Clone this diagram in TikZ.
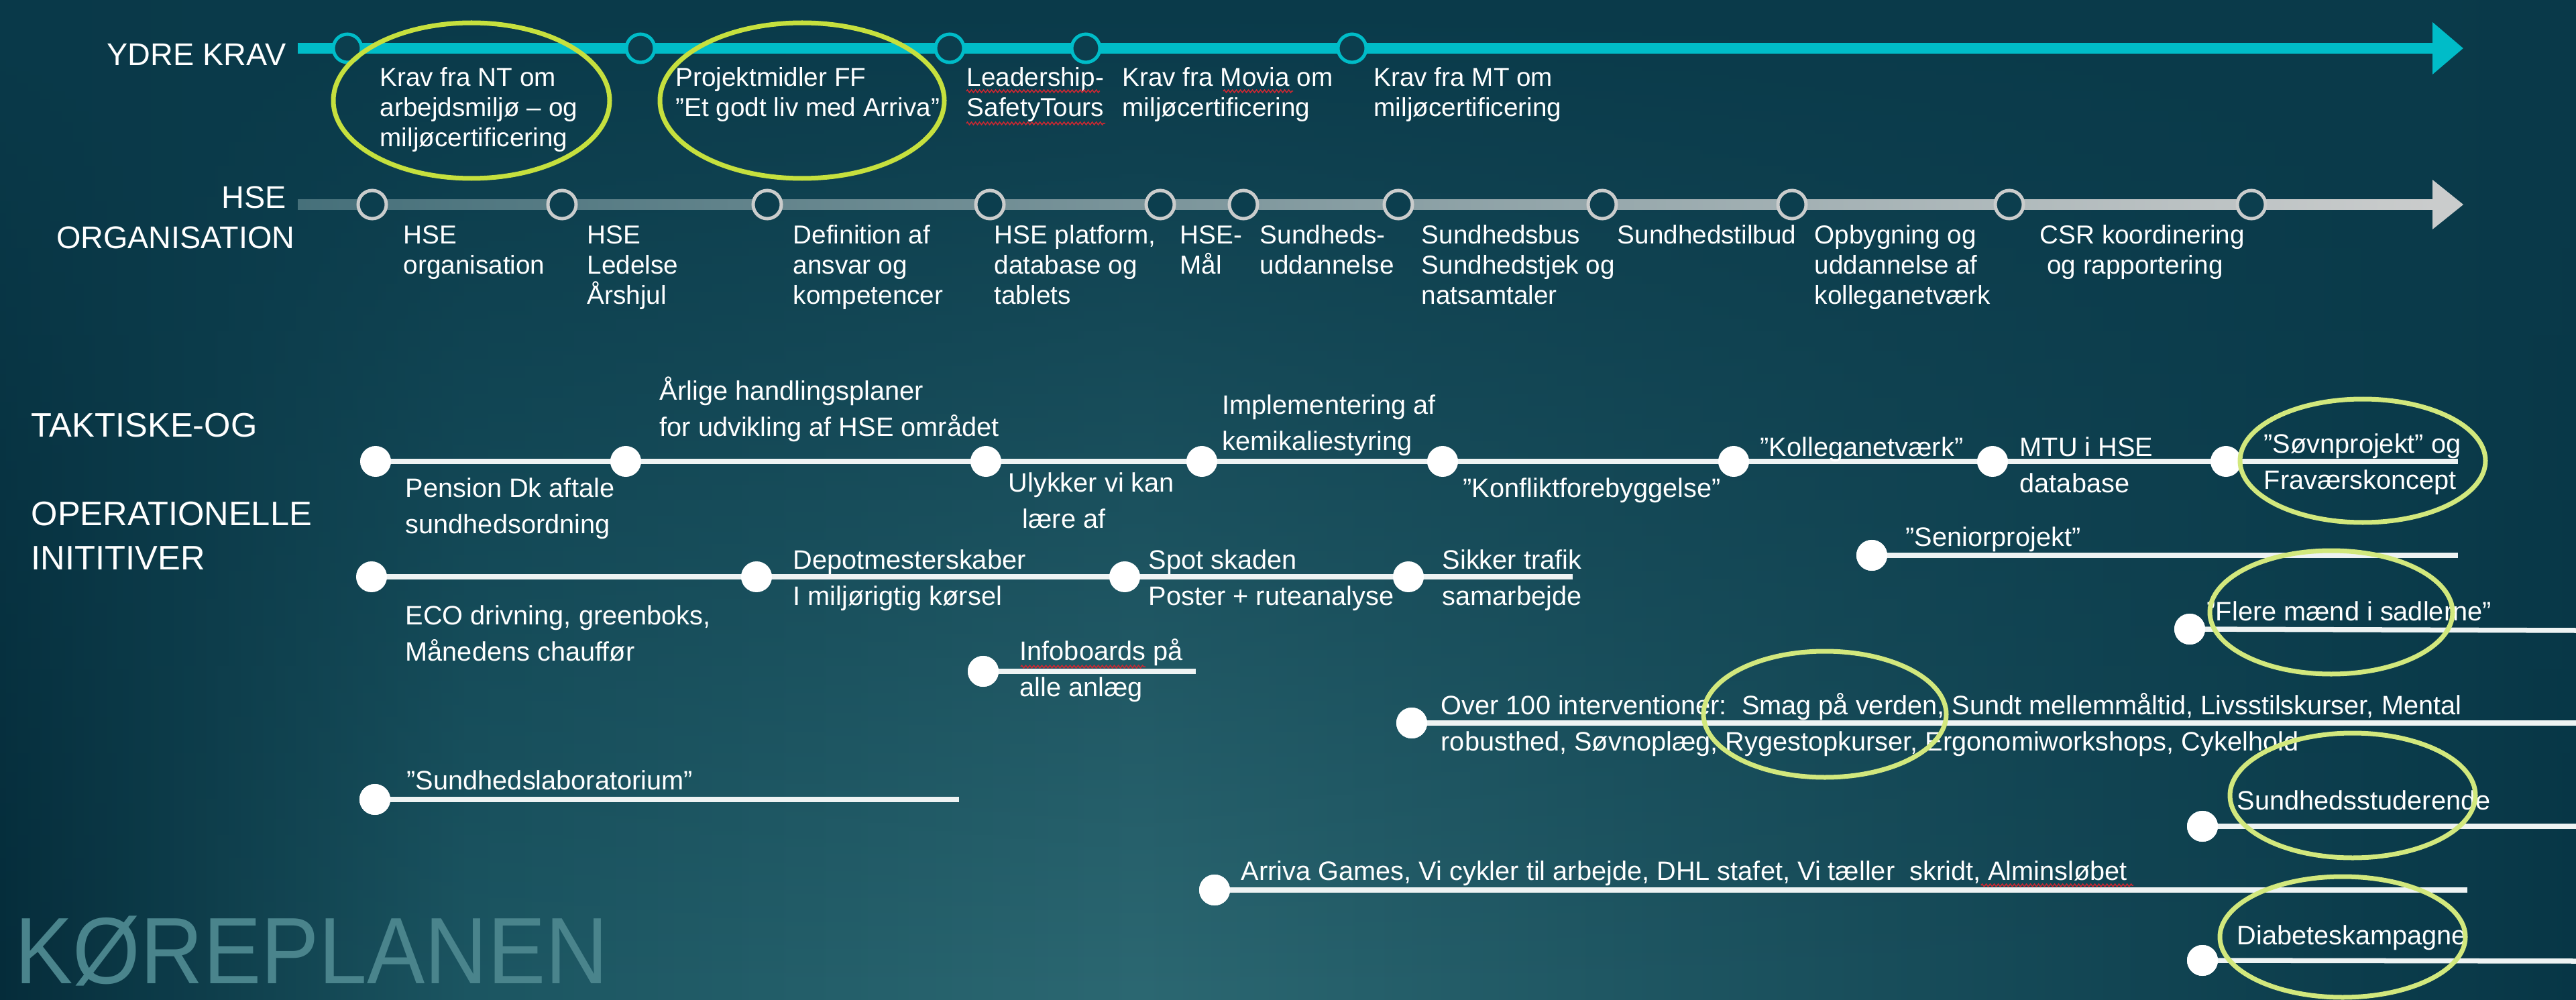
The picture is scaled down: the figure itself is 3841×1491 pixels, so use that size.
\documentclass[tikz,border=0pt]{standalone}
\usepackage{fontspec}
\setmainfont{Liberation Sans}
\usetikzlibrary{arrows.meta,fadings,decorations.pathmorphing}
\definecolor{bgA}{RGB}{5,44,58}
\definecolor{bgB}{RGB}{28,86,98}
\definecolor{bgC}{RGB}{44,104,114}
\definecolor{bgD}{RGB}{7,54,70}
\definecolor{topdark}{RGB}{10,58,74}
\definecolor{cyanline}{RGB}{0,188,200}
\definecolor{dotfill}{RGB}{12,62,78}
\definecolor{hseL}{RGB}{70,112,122}
\definecolor{hseR}{RGB}{202,204,204}
\definecolor{limeA}{RGB}{198,224,62}
\definecolor{limeB}{RGB}{210,232,125}
\definecolor{wmark}{RGB}{74,132,140}
\definecolor{sqred}{RGB}{205,40,50}
\definecolor{wl}{RGB}{238,243,243}
\newcommand{\tstr}{\rule{0pt}{10.5pt}}
\begin{document}
\begin{tikzpicture}[x=0.01cm,y=-0.01cm,
  txt/.style={font=\fontsize{11}{12.8}\selectfont, text=white, align=left, anchor=north west, inner sep=0pt, yshift=10.5pt},
  ttxt/.style={font=\fontsize{11.3}{15.3}\selectfont, text=white, align=left, anchor=north west, inner sep=0pt, yshift=10.5pt},
  sect/.style={font=\fontsize{13.3}{17}\selectfont, text=white, inner sep=0pt},
  tsect/.style={font=\fontsize{14.4}{18.8}\selectfont, text=white, inner sep=0pt, align=left, anchor=north west},
  ydot/.style={circle, draw=cyanline, line width=0.05cm, fill=dotfill, minimum size=0.42cm, inner sep=0pt},
  hdot/.style={circle, draw=hseR, line width=0.05cm, fill=dotfill, minimum size=0.42cm, inner sep=0pt},
  wdot/.style={circle, fill=white, minimum size=0.46cm, inner sep=0pt},
  wline/.style={draw=wl, line width=0.075cm},
  hlA/.style={draw=limeA, line width=0.07cm},
  hlB/.style={draw=limeB, line width=0.07cm},
  squig/.style={draw=sqred, line width=0.015cm, decorate, decoration={zigzag, amplitude=0.02cm, segment length=0.06cm}},
]
% background
\useasboundingbox (0,0) rectangle (3841,1491);
\shade[left color=bgA, right color=bgB] (0,0) rectangle (700,1491);
\shade[left color=bgB, right color=bgC] (699,0) rectangle (1700,1491);
\shade[left color=bgC, right color=bgD] (1699,0) rectangle (3841,1491);
\fill[topdark, path fading=south] (0,0) rectangle (3841,1491);

% watermark
\node[font=\fontsize{40}{40}\selectfont, text=wmark, inner sep=0pt, anchor=base west, xscale=0.92] (wm) at (22,1466) {KØREPLANEN};

% section labels
\node[sect, anchor=base east] (ydre) at (427,98) {YDRE KRAV};
\node[sect, anchor=north east, align=right] (hseorg) at (440,277) {HSE\kern3.6pt\\ORGANISATION};
\node[tsect] (takt) at (46,615) {TAKTISKE-OG\\[18.8pt]OPERATIONELLE\\INITITIVER};

% YDRE KRAV timeline
\coordinate (ys) at (444,72);
\coordinate (ye) at (3673,72);
\draw[cyanline, line width=0.15cm, -{Triangle[length=0.46cm,width=0.75cm]}] (ys) -- (ye);
\foreach \n/\x in {1/518,2/955,3/1416,4/1619,5/2016}{
  \node[ydot] (y\n) at (\x,72) {};
}
\node[txt] (yl1) at (566,128) {\tstr Krav fra NT om\\arbejdsmiljø – og\\miljøcertificering};
\node[txt] (yl2) at (1007,128) {\tstr Projektmidler FF\\”Et godt liv med Arriva”};
\node[txt] (yl3) at (1441,128) {\tstr Leadership-\\SafetyTours};
\node[txt] (yl4) at (1673,128) {\tstr Krav fra Movia om\\miljøcertificering};
\node[txt] (yl5) at (2048,128) {\tstr Krav fra MT om\\miljøcertificering};

% HSE timeline
\coordinate (hs) at (444,305);
\coordinate (he) at (3673,305);
\shade[left color=hseL, right color=hseR] (444,297.5) rectangle (3630,312.5);
\fill[hseR] (3627,268) -- (he) -- (3627,342) -- cycle;
\foreach \n/\x in {1/555,2/838,3/1144,4/1476,5/1730,6/1854,7/2085,8/2389,9/2672,10/2996,11/3357}{
  \node[hdot] (h\n) at (\x,305) {};
}
\node[txt] (hl1) at (601,363) {\tstr HSE\\organisation};
\node[txt] (hl2) at (875,363) {\tstr HSE\\Ledelse\\Årshjul};
\node[txt] (hl3) at (1182,363) {\tstr Definition af\\ansvar og\\kompetencer};
\node[txt] (hl4) at (1482,363) {\tstr HSE platform,\\database og\\tablets};
\node[txt] (hl5) at (1759,363) {\tstr HSE-\\Mål};
\node[txt] (hl6) at (1878,363) {\tstr Sundheds-\\uddannelse};
\node[txt] (hl7) at (2119,363) {\tstr Sundhedsbus\\Sundhedstjek og\\natsamtaler};
\node[txt] (hl8) at (2411,363) {\tstr Sundhedstilbud};
\node[txt] (hl9) at (2705,363) {\tstr Opbygning og\\uddannelse af\\kolleganetværk};
\node[txt] (hl10) at (3041,363) {\tstr CSR koordinering\\\hspace*{3pt}og rapportering};

% Tactical row 1
\coordinate (r1e) at (3665,688);
\foreach \n/\x in {1/560,2/933,3/1470,4/1792,5/2151,6/2585,7/2971,8/3319}{
  \coordinate (r1c\n) at (\x,688);
}
\draw[wline] (r1c1) -- (r1e);
\foreach \n in {1,...,8}{ \node[wdot] (r1d\n) at (r1c\n) {}; }
\node[ttxt] (t1) at (604,741) {\tstr Pension Dk aftale\\sundhedsordning};
\node[ttxt] (t2) at (983,596) {\tstr Årlige handlingsplaner\\for udvikling af HSE området};
\node[ttxt] (t3) at (1503,733) {\tstr Ulykker vi kan\\\hspace*{6pt}lære af};
\node[ttxt] (t4) at (1822,617) {\tstr Implementering af\\kemikaliestyring};
\node[ttxt] (t5) at (2181,741) {\tstr ”Konfliktforebyggelse”};
\node[ttxt] (t6) at (2624,680) {\tstr ”Kolleganetværk”};
\node[ttxt] (t7) at (3011,680) {\tstr MTU i HSE\\database};
\node[ttxt] (t8) at (3375,675) {\tstr ”Søvnprojekt” og\\Fraværskoncept};

% Tactical row 2
\coordinate (r2e) at (2345,860);
\foreach \n/\x in {1/554,2/1128,3/1677,4/2100}{
  \coordinate (r2c\n) at (\x,860);
}
\draw[wline] (r2c1) -- (r2e);
\foreach \n in {1,...,4}{ \node[wdot] (r2d\n) at (r2c\n) {}; }
\node[ttxt] (u1) at (604,931) {\tstr ECO drivning, greenboks,\\Månedens chauffør};
\node[ttxt] (u2) at (1182,848) {\tstr Depotmesterskaber\\I miljørigtig kørsel};
\node[ttxt] (u3) at (1712,848) {\tstr Spot skaden\\Poster + ruteanalyse};
\node[ttxt] (u4) at (2150,848) {\tstr Sikker trafik\\samarbejde};

% single rows
\coordinate (r3e) at (1783,1001);
\node[wdot] (r3d) at (1466,1001) {};
\draw[wline] (r3d.center) -- (r3e);
\node[wdot] at (r3d) {};
\node[ttxt] (v3) at (1520,984) {\tstr Infoboards på\\alle anlæg};

\coordinate (r4e) at (3841,1078);
\node[wdot] (r4d) at (2105,1078) {};
\draw[wline] (r4d.center) -- (r4e);
\node[wdot] at (r4d) {};
\node[ttxt] (v4) at (2148,1065) {\tstr Over 100 interventioner:\ \ Smag på verden, Sundt mellemmåltid, Livsstilskurser, Mental\\robusthed, Søvnoplæg, Rygestopkurser, Ergonomiworkshops, Cykelhold};

\coordinate (r5e) at (1430,1192);
\node[wdot] (r5d) at (559,1192) {};
\draw[wline] (r5d.center) -- (r5e);
\node[wdot] at (r5d) {};
\node[ttxt] (v5) at (606,1177) {\tstr ”Sundhedslaboratorium”};

\coordinate (r6e) at (3679,1327);
\node[wdot] (r6d) at (1811,1327) {};
\draw[wline] (r6d.center) -- (r6e);
\node[wdot] at (r6d) {};
\node[ttxt] (v6) at (1850,1312) {\tstr Arriva Games, Vi cykler til arbejde, DHL stafet, Vi tæller\ \ skridt, Alminsløbet};

\coordinate (r7e) at (3665,828);
\node[wdot] (r7d) at (2791,828) {};
\draw[wline] (r7d.center) -- (r7e);
\node[wdot] at (r7d) {};
\node[ttxt] (v7) at (2841,814) {\tstr ”Seniorprojekt”};

\coordinate (r8e) at (3841,940);
\node[wdot] (r8d) at (3265,938) {};
\draw[wline] (r8d.center) -- (r8e);
\node[wdot] at (r8d) {};
\node[ttxt] (v8) at (3290,925) {\tstr ”Flere mænd i sadlerne”};

\coordinate (r9e) at (3841,1232);
\node[wdot] (r9d) at (3284,1232) {};
\draw[wline] (r9d.center) -- (r9e);
\node[wdot] at (r9d) {};
\node[ttxt] (v9) at (3335,1207) {\tstr Sundhedsstuderende};

\coordinate (r10e) at (3841,1433);
\node[wdot] (r10d) at (3284,1432) {};
\draw[wline] (r10d.center) -- (r10e);
\node[wdot] at (r10d) {};
\node[ttxt] (v10) at (3335,1408) {\tstr Diabeteskampagne};

% spell-check squiggles
\draw[squig] (1441,136) -- (1640,136);
\draw[squig] (1441,184) -- (1648,184);
\draw[squig] (1824,136) -- (1928,136);
\draw[squig] (1522,994) -- (1708,994);
\draw[squig] (2954,1320) -- (3181,1320);

% highlight ellipses
\draw[hlA] (703,150) ellipse [x radius=206, y radius=116];
\draw[hlA] (1196,150) ellipse [x radius=212, y radius=116];
\draw[hlB] (3523,687) ellipse [x radius=183, y radius=92];
\draw[hlB] (3476,913) ellipse [x radius=181, y radius=92];
\draw[hlB] (2721,1065) ellipse [x radius=181, y radius=94];
\draw[hlB] (3508,1186) ellipse [x radius=183, y radius=93];
\draw[hlB] (3493,1397) ellipse [x radius=183, y radius=90];
\end{tikzpicture}
\end{document}
